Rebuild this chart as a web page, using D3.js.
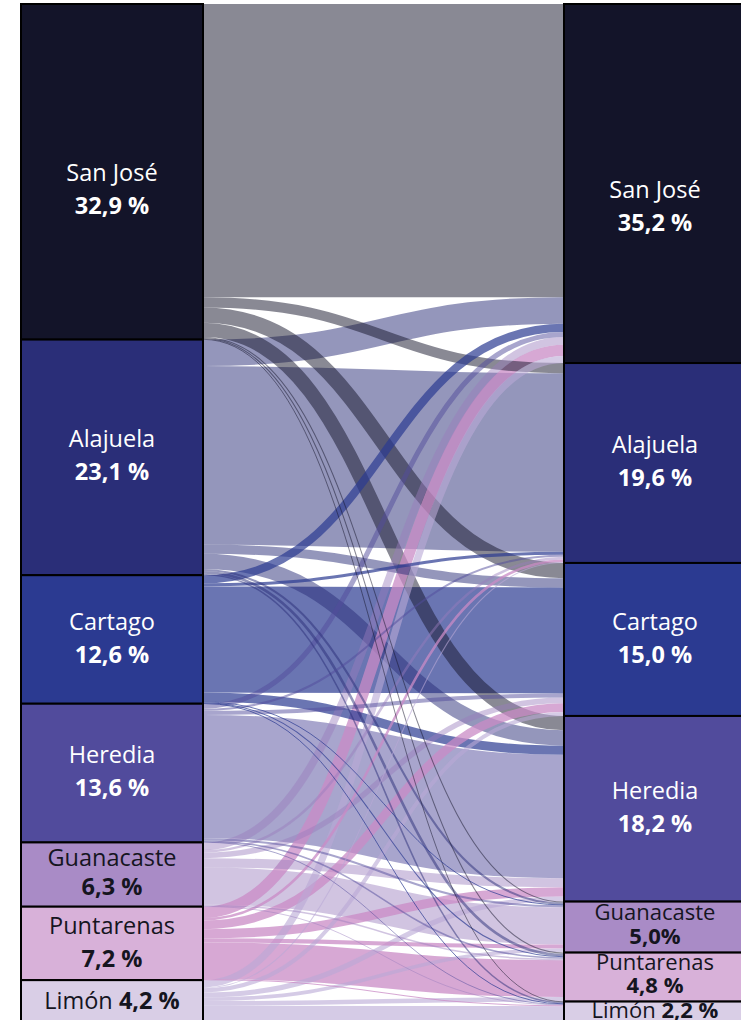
<!DOCTYPE html>
<html>
<head>
<meta charset="utf-8">
<title>Migración interprovincial - Costa Rica</title>
<style>
body { margin: 0; background: #fff; }
svg { display: block; background: #fff; }
.node rect { stroke: #000; stroke-width: 2px; }
.label { font-family: "Open Sans", sans-serif; text-anchor: middle; }
.label .pct { font-weight: bold; }
.link { fill: none; }
</style>
</head>
<body>
<svg width="741" height="1020"></svg>
<script src="https://d3js.org/d3.v7.min.js"></script>
<script>
(function() {
  var provinces = ["San José", "Alajuela", "Cartago", "Heredia", "Guanacaste", "Puntarenas", "Limón"];

  // share of population by province, origin (left) and destination (right)
  var originShare = [32.9, 23.1, 12.6, 13.6, 6.3, 7.2, 4.2];
  var destShare   = [35.2, 19.6, 15.0, 18.2, 5.0, 4.8, 2.2];
  var originText  = ["32,9 %", "23,1 %", "12,6 %", "13,6 %", "6,3 %", "7,2 %", "4,2 %"];
  var destText    = ["35,2 %", "19,6 %", "15,0 %", "18,2 %", "5,0%", "4,8 %", "2,2 %"];

  // flows in %, one array per origin, destinations in province order
  var fromSanJose    = [28.75, 1.0, 1.5, 1.4, 0.1, 0.1, 0.05];
  var fromAlajuela   = [2.6, 17.5, 0.9, 1.5, 0.2, 0.25, 0.15];
  var fromCartago    = [0.8, 0.3, 10.4, 0.9, 0.05, 0.1, 0.05];
  var fromHeredia    = [0.5, 0.2, 0.4, 12.1, 0.2, 0.15, 0.05];
  var fromGuanacaste = [0.75, 0.25, 0.55, 0.9, 3.65, 0.15, 0.05];
  var fromPuntarenas = [1.1, 0.25, 0.85, 0.9, 0.4, 3.6, 0.1];
  var fromLimon      = [0.7, 0.1, 0.4, 0.5, 0.35, 0.45, 1.7];
  var flows = [fromSanJose, fromAlajuela, fromCartago, fromHeredia, fromGuanacaste, fromPuntarenas, fromLimon];

  var nodeFill = ["#131429", "#2a2e78", "#2b3a91", "#514b9c", "#a98bc6", "#d8b1d9", "#d9cee6"];
  var linkFill = ["#13142a", "#2a2e78", "#2b3a91", "#514b9c", "#9a7cbc", "#c98bc5", "#b9a8d6"];
  var linkOpacity = [0.5, 0.5, 0.7, 0.5, 0.45, 0.75, 0.6];

  var svg = d3.select("svg"),
      nodeWidth = 182;

  var y = d3.scaleLinear().domain([0, 100]).range([4, 1024]);
  var x = d3.scalePoint().domain(["origen", "destino"]).range([21, 564]);
  var k = y(1) - y(0);

  function stack(shares, side) {
    var acc = 0;
    return shares.map(function(v, i) {
      var n = { index: i, side: side, x: x(side), y0: y(acc), y1: y(acc + v) };
      acc += v;
      return n;
    });
  }

  var leftNodes = stack(originShare, "origen"),
      rightNodes = stack(destShare, "destino");

  var links = [];
  flows.forEach(function(row, i) {
    row.forEach(function(v, j) {
      links.push({ source: i, target: j, value: v, width: v * k });
    });
  });

  var outOff = leftNodes.map(function(n) { return n.y0; });
  links.forEach(function(l) {
    l.sy = outOff[l.source] + l.width / 2;
    outOff[l.source] += l.width;
  });
  var inOff = rightNodes.map(function(n) { return n.y0; });
  links.slice()
    .sort(function(a, b) { return a.target - b.target || a.source - b.source; })
    .forEach(function(l) {
      l.ty = inOff[l.target] + l.width / 2;
      inOff[l.target] += l.width;
    });

  var x0 = x("origen") + nodeWidth, x1 = x("destino");
  var linkPath = d3.linkHorizontal()
    .source(function(d) { return [x0, d.sy]; })
    .target(function(d) { return [x1, d.ty]; });

  svg.append("g")
    .selectAll("path")
    .data(links.slice().sort(function(a, b) { return b.width - a.width; }))
    .enter().append("path")
      .attr("class", "link")
      .attr("d", linkPath)
      .attr("stroke", function(d) { return linkFill[d.source]; })
      .attr("stroke-opacity", function(d) { return linkOpacity[d.source]; })
      .attr("stroke-width", function(d) { return Math.max(1, d.width); });

  var allNodes = leftNodes.concat(rightNodes);

  var node = svg.append("g")
    .selectAll("g")
    .data(allNodes)
    .enter().append("g")
      .attr("class", "node");

  node.append("rect")
    .attr("x", function(d) { return d.x; })
    .attr("y", function(d) { return d.y0; })
    .attr("width", nodeWidth)
    .attr("height", function(d) { return d.y1 - d.y0; })
    .attr("fill", function(d) { return nodeFill[d.index]; });

  node.each(function(d) {
    var g = d3.select(this),
        h = d.y1 - d.y0,
        c = (d.y0 + d.y1) / 2,
        cx = d.x + nodeWidth / 2,
        pct = d.side === "origen" ? originText[d.index] : destText[d.index],
        color = d3.hsl(nodeFill[d.index]).l > 0.5 ? "#15151f" : "#ffffff";

    var t = g.append("text")
      .attr("class", "label")
      .attr("fill", color)
      .style("font-size", (h < 60 && h > 45 || h < 30 ? 22 : 23.5) + "px");

    if (h < 45) {
      t.attr("x", cx).attr("y", c + (h < 30 ? 5 : 7));
      t.append("tspan").text(provinces[d.index] + " ");
      t.append("tspan").attr("class", "pct").text(pct);
    } else {
      // tall boxes carry the label a little below the middle
      var gap = Math.min(33, h * 0.46),
          line1 = c - gap * 0.3 + Math.max(0, (h - 250) * 0.22);
      t.append("tspan").attr("x", cx).attr("y", line1).text(provinces[d.index]);
      t.append("tspan").attr("class", "pct").attr("x", cx).attr("y", line1 + gap).text(pct);
    }
  });
})();
</script>
</body>
</html>
